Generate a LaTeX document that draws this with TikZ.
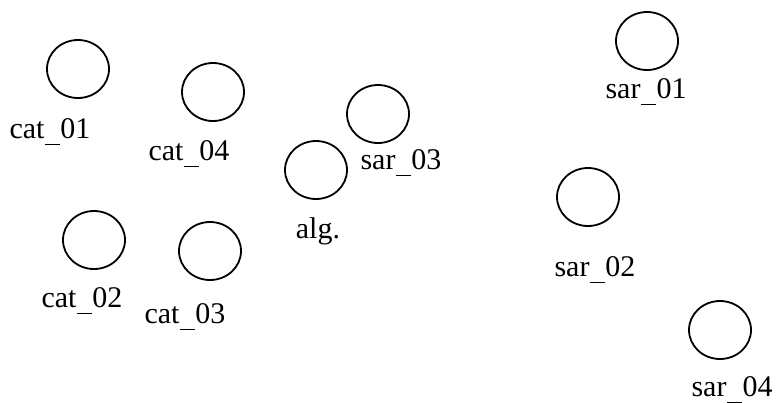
\documentclass[tikz,border=0pt]{standalone}
\usepackage{fontspec}
\setmainfont{Liberation Serif}
\usetikzlibrary{shapes.geometric}
\newcommand{\lowbar}{\kern0.5pt\rule[-7pt]{15pt}{1.4pt}\kern0.5pt}
\begin{document}
\begin{tikzpicture}[x=1pt,y=-1pt,
    item/.style={ellipse,draw,line width=1.8pt,minimum width=62pt,minimum height=58pt,inner sep=0pt},
    tag/.style={anchor=base,inner sep=0pt,font=\fontsize{30}{36}\selectfont}]
                        \useasboundingbox (0,0) rectangle (778,402);

                        % Drawing item cat_01
                        \node [item] (cat01) at (78,69) {};%
                        \node [tag] (cat01tag) at (50,138) {cat\lowbar01};%

                        % Drawing item cat_04
                        \node [item] (cat04) at (213,92) {};%
                        \node [tag] (cat04tag) at (189,160) {cat\lowbar04};%

                        % Drawing item cat_02
                        \node [item] (cat02) at (94,240) {};%
                        \node [tag] (cat02tag) at (82,307) {cat\lowbar02};%

                        % Drawing item cat_03
                        \node [item] (cat03) at (210,251) {};%
                        \node [tag] (cat03tag) at (185,323) {cat\lowbar03};%

                        % Drawing item alg.
                        \node [item] (alg) at (316,170) {};%
                        \node [tag] (algtag) at (318,238) {alg.};%

                        % Drawing item sar_03
                        \node [item] (sar03) at (378,114) {};%
                        \node [tag] (sar03tag) at (401,169) {sar\lowbar03};%

                        % Drawing item sar_01
                        \node [item] (sar01) at (647,41) {};%
                        \node [tag] (sar01tag) at (646,98) {sar\lowbar01};%

                        % Drawing item sar_02
                        \node [item] (sar02) at (588,197) {};%
                        \node [tag] (sar02tag) at (595,276) {sar\lowbar02};%

                        % Drawing item sar_04
                        \node [item] (sar04) at (720,330) {};%
                        \node [tag] (sar04tag) at (732,396) {sar\lowbar04};%
                    \end{tikzpicture}
\end{document}
